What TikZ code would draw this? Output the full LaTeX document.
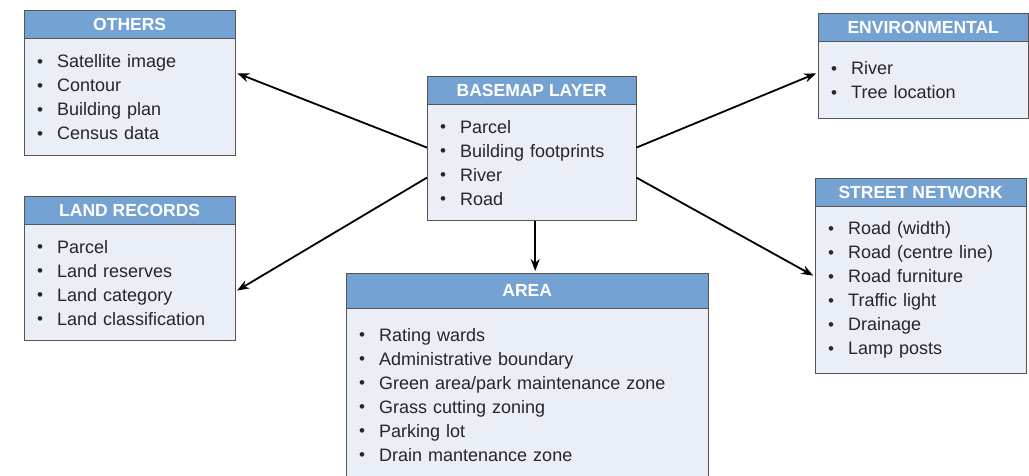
\documentclass[tikz,border=0pt]{standalone}
\usepackage{fontspec}
\setmainfont{Liberation Sans}
\usepackage{tikz}
\usetikzlibrary{arrows.meta}
\definecolor{hdrblue}{HTML}{74A2D3}
\definecolor{bodygray}{HTML}{EAEEF6}
\definecolor{boxline}{HTML}{555555}
\newcommand{\itm}[1]{\makebox[20pt][l]{\raisebox{0.5pt}{\fontsize{17}{24}\selectfont\textbullet}}#1}
\begin{document}
\begin{tikzpicture}[x=1pt,y=1pt]
\tikzstyle{hdr}=[draw=boxline,fill=hdrblue,text=white,anchor=north west,inner sep=0pt,
  minimum height=28pt,font=\bfseries\fontsize{17.5}{20}\selectfont]
\tikzstyle{body}=[draw=boxline,fill=bodygray,text=black!85,anchor=north west,inner xsep=13pt,
  inner ysep=0pt,align=left,font=\fontsize{18}{24}\selectfont]
\tikzstyle{link}=[-{Stealth[length=12pt,width=9pt]},line width=1.8pt,shorten >=2pt]
\useasboundingbox (0,0) rectangle (1029,-476);
% others
\node [hdr,minimum width=211pt] (oth-h) at (24,-10) {OTHERS};
\node [body,text width=185pt,minimum height=117pt] (oth-b) at (oth-h.south west)
  {\itm{Satellite image}\\ \itm{Contour}\\ \itm{Building plan}\\ \itm{Census data}};
% land records
\node [hdr,minimum width=211pt] (land-h) at (24,-196) {LAND RECORDS};
\node [body,text width=185pt,minimum height=116pt] (land-b) at (land-h.south west)
  {\itm{Parcel}\\ \itm{Land reserves}\\ \itm{Land category}\\ \itm{Land classification}};
% basemap layer
\node [hdr,minimum width=209pt] (bm-h) at (427,-76) {BASEMAP LAYER};
\node [body,text width=183pt,minimum height=116pt] (bm-b) at (bm-h.south west)
  {\itm{Parcel}\\ \itm{Building footprints}\\ \itm{River}\\ \itm{Road}};
% environmental
\node [hdr,minimum width=210pt] (env-h) at (818,-13) {ENVIRONMENTAL};
\node [body,text width=184pt,minimum height=77pt] (env-b) at (env-h.south west)
  {\itm{River}\\ \itm{Tree location}};
% street network
\node [hdr,minimum width=211pt] (str-h) at (815,-178) {STREET NETWORK};
\node [body,text width=185pt,minimum height=167pt] (str-b) at (str-h.south west)
  {\itm{Road (width)}\\ \itm{Road (centre line)}\\ \itm{Road furniture}\\
   \itm{Traffic light}\\ \itm{Drainage}\\ \itm{Lamp posts}};
% area
\node [hdr,minimum width=362pt,minimum height=35pt] (area-h) at (346,-273) {AREA};
\node [body,text width=336pt,minimum height=172pt] (area-b) at (area-h.south west)
  {\itm{Rating wards}\\ \itm{Administrative boundary}\\ \itm{Green area/park maintenance zone}\\
   \itm{Grass cutting zoning}\\ \itm{Parking lot}\\ \itm{Drain mantenance zone}};
% links
\draw [link] ([yshift=15pt]bm-b.west) -- ([yshift=24.5pt]oth-b.east);
\draw [link] ([yshift=-15pt]bm-b.west) -- ([yshift=-9pt]land-b.east);
\draw [link] ([yshift=15pt]bm-b.east) -- ([yshift=7.5pt]env-b.west);
\draw [link] ([yshift=-15pt]bm-b.east) -- ([yshift=13.5pt]str-b.west);
\draw [link] ([xshift=3.5pt]bm-b.south) -- ([xshift=3.5pt]bm-b.south |- area-h.north);
\end{tikzpicture}
\end{document}
